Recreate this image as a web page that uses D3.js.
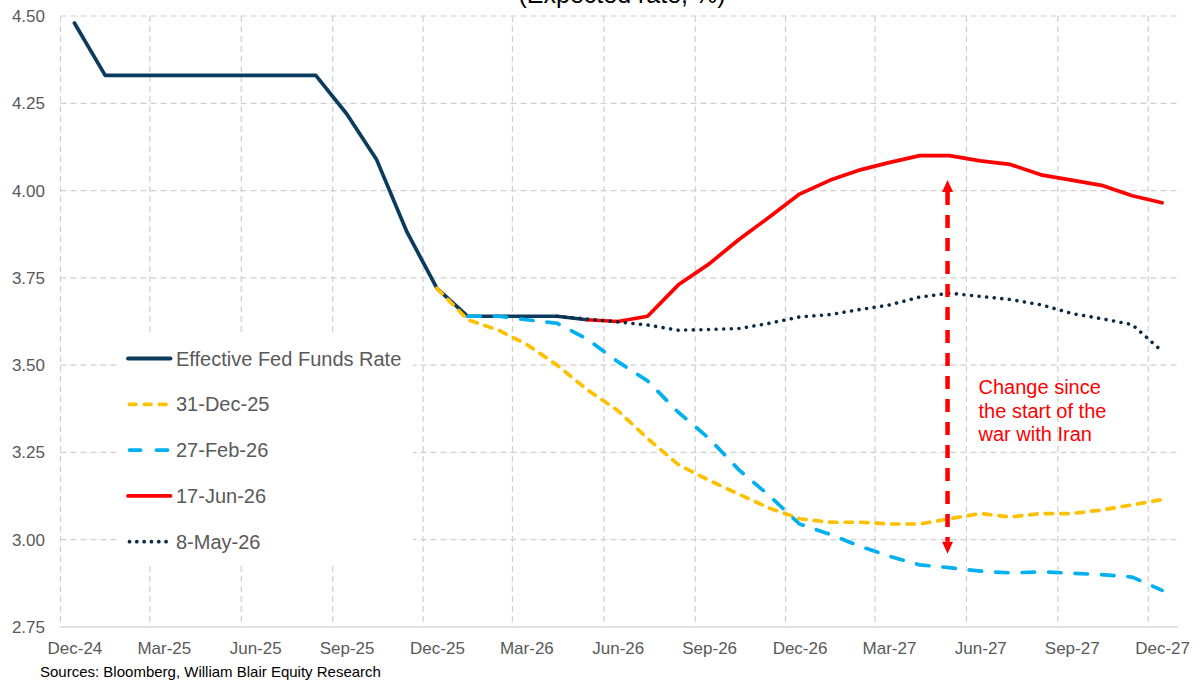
<!DOCTYPE html>
<html>
<head>
<meta charset="utf-8">
<script src="https://cdn.jsdelivr.net/npm/d3@7"></script>
<style>
  html, body { margin: 0; padding: 0; background: #ffffff; }
  svg { display: block; font-family: "Liberation Sans", Arial, sans-serif; }
</style>
</head>
<body>
<svg id="chart" width="1204" height="681"></svg>
<script>
// ---------- DATA ----------
const months = ["Dec-24","Jan-25","Feb-25","Mar-25","Apr-25","May-25","Jun-25","Jul-25","Aug-25","Sep-25","Oct-25","Nov-25",
  "Dec-25","Jan-26","Feb-26","Mar-26","Apr-26","May-26","Jun-26","Jul-26","Aug-26","Sep-26","Oct-26","Nov-26",
  "Dec-26","Jan-27","Feb-27","Mar-27","Apr-27","May-27","Jun-27","Jul-27","Aug-27","Sep-27","Oct-27","Nov-27","Dec-27"];

const effrStart = "Dec-24";
const effrValues = [4.48, 4.33, 4.33, 4.33, 4.33, 4.33, 4.33, 4.33, 4.33, 4.22, 4.09, 3.88, 3.72, 3.64, 3.64, 3.64, 3.64, 3.63];

const dec25Start = "Dec-25";
const dec25Values = [3.72, 3.63, 3.60, 3.56, 3.50, 3.43, 3.37, 3.29, 3.215, 3.17, 3.13, 3.09, 3.06, 3.05, 3.05, 3.045, 3.045, 3.06, 3.075, 3.065, 3.075, 3.075, 3.085, 3.10, 3.115];

const feb26Start = "Jan-26";
const feb26Values = [3.64, 3.64, 3.63, 3.62, 3.575, 3.51, 3.455, 3.365, 3.29, 3.20, 3.125, 3.045, 3.015, 2.98, 2.953, 2.928, 2.92, 2.91, 2.905, 2.908, 2.904, 2.90, 2.893, 2.855];

const jun26Start = "May-26";
const jun26Values = [3.63, 3.625, 3.64, 3.73, 3.79, 3.86, 3.925, 3.99, 4.03, 4.06, 4.08, 4.10, 4.10, 4.085, 4.075, 4.045, 4.03, 4.015, 3.985, 3.965];

const may26Start = "Apr-26";
const may26Values = [3.64, 3.632, 3.624, 3.615, 3.60, 3.602, 3.605, 3.62, 3.638, 3.645, 3.66, 3.672, 3.695, 3.706, 3.697, 3.688, 3.673, 3.648, 3.633, 3.616, 3.54];

const tickMonths = ["Dec-24","Mar-25","Jun-25","Sep-25","Dec-25","Mar-26","Jun-26","Sep-26","Dec-26","Mar-27","Jun-27","Sep-27","Dec-27"];
const yTicks = [2.75, 3.00, 3.25, 3.50, 3.75, 4.00, 4.25, 4.50];

const seriesNames = ["Effective Fed Funds Rate", "31-Dec-25", "27-Feb-26", "17-Jun-26", "8-May-26"];

const titleText = "(Expected rate, %)";
const sourceText = "Sources: Bloomberg, William Blair Equity Research";
const annotationLines = ["Change since", "the start of the", "war with Iran"];
const arrowDate = "2027-05-13";
const arrowTop = 4.03;
const arrowBottom = 2.96;

// ---------- HELPERS ----------
const monIdx = {Jan:0,Feb:1,Mar:2,Apr:3,May:4,Jun:5,Jul:6,Aug:7,Sep:8,Oct:9,Nov:10,Dec:11};
function monthDate(label, day) {
  const [m, y] = label.split("-");
  return new Date(2000 + (+y), monIdx[m], day);
}
function buildSeries(start, values) {
  const s = months.indexOf(start);
  return values.map((v, i) => ({ date: monthDate(months[s + i], 15), value: v }));
}

// ---------- SCALES ----------
const svg = d3.select("#chart");
const x = d3.scaleTime()
  .domain([new Date(2024, 11, 1), new Date(2027, 11, 31)])
  .range([60.5, 1178]);
const y = d3.scaleLinear().domain([2.75, 4.50]).range([627, 16]);

const gridColor = "#d0d0d0";
const textColor = "#595959";

// ---------- GRID ----------
const grid = svg.append("g");
grid.selectAll("line.h")
  .data(yTicks.filter(t => t > 2.75))
  .join("line")
  .attr("x1", x.range()[0]).attr("x2", x.range()[1])
  .attr("y1", d => y(d)).attr("y2", d => y(d))
  .attr("stroke", gridColor).attr("stroke-width", 1.2)
  .attr("stroke-dasharray", "6,4");

grid.selectAll("line.v")
  .data(tickMonths)
  .join("line")
  .attr("x1", d => x(monthDate(d, 1))).attr("x2", d => x(monthDate(d, 1)))
  .attr("y1", y(4.50)).attr("y2", y(2.75))
  .attr("stroke", gridColor).attr("stroke-width", 1.2)
  .attr("stroke-dasharray", "6,4");

// x axis base line
svg.append("line")
  .attr("x1", x.range()[0]).attr("x2", x.range()[1])
  .attr("y1", y(2.75)).attr("y2", y(2.75))
  .attr("stroke", "#d9d9d9").attr("stroke-width", 1.6);

// ---------- AXES LABELS ----------
const yAxis = d3.axisLeft(y).tickValues(yTicks).tickFormat(d3.format(".2f")).tickSize(0).tickPadding(0);
const yg = svg.append("g").attr("transform", "translate(45,0)").call(yAxis);
yg.select(".domain").remove();
yg.selectAll("text").attr("fill", textColor).attr("font-size", 17)
  .attr("font-family", "'Liberation Sans', Arial, sans-serif");

const xAxis = d3.axisBottom(x)
  .tickValues(tickMonths.map(m => monthDate(m, 15)))
  .tickFormat(d => tickMonths[tickMonths.findIndex(m => +monthDate(m, 15) === +d)])
  .tickSize(0).tickPadding(0);
const xg = svg.append("g").attr("transform", "translate(0,640)").call(xAxis);
xg.select(".domain").remove();
xg.selectAll("text").attr("fill", textColor).attr("font-size", 17)
  .attr("font-family", "'Liberation Sans', Arial, sans-serif")
  .attr("dy", "0.8em");

// ---------- LINES ----------
const line = d3.line().x(d => x(d.date)).y(d => y(d.value));

const seriesDefs = [
  { name: seriesNames[0], data: buildSeries(effrStart, effrValues), color: "#0b3c5d", dash: null, cap: "round" },
  { name: seriesNames[1], data: buildSeries(dec25Start, dec25Values), color: "#ffc000", dash: "7.5,8", cap: "round" },
  { name: seriesNames[2], data: buildSeries(feb26Start, feb26Values), color: "#00b0f0", dash: "12.5,14", cap: "round" },
  { name: seriesNames[3], data: buildSeries(jun26Start, jun26Values), color: "#ff0000", dash: null, cap: "round" },
  { name: seriesNames[4], data: buildSeries(may26Start, may26Values), color: "#0b2a45", dash: "0.01,7.6", cap: "round" }
];

svg.append("g").selectAll("path")
  .data(seriesDefs)
  .join("path")
  .attr("d", d => line(d.data))
  .attr("fill", "none")
  .attr("stroke", d => d.color)
  .attr("stroke-width", (d, i) => i === 4 ? 3.6 : 3.7)
  .attr("stroke-linejoin", "round")
  .attr("stroke-linecap", d => d.cap)
  .attr("stroke-dasharray", d => d.dash);

// ---------- LEGEND ----------
const legend = svg.append("g");
legend.append("rect")
  .attr("x", 120).attr("y", 333).attr("width", 293).attr("height", 230)
  .attr("fill", "#ffffff");
const items = legend.selectAll("g.item")
  .data(seriesDefs)
  .join("g")
  .attr("transform", (d, i) => `translate(0,${358.5 + i * 45.8})`);
items.append("line")
  .attr("x1", (d, i) => i === 0 || i === 3 ? 128 : 129.5)
  .attr("x2", (d, i) => i === 0 || i === 3 ? 170.5 : 169)
  .attr("y1", 0).attr("y2", 0)
  .attr("stroke", d => d.color)
  .attr("stroke-width", 3.8)
  .attr("stroke-linecap", d => d.cap)
  .attr("stroke-dasharray", (d, i) => i === 1 ? "6.5,8.5" : i === 2 ? "11,16" : i === 4 ? "0.01,7.3" : null);
items.append("text")
  .attr("x", 176).attr("y", 0).attr("dy", "0.35em")
  .attr("font-size", 20).attr("fill", textColor)
  .text(d => d.name);

// ---------- ANNOTATION ARROW ----------
const ax = x(new Date(arrowDate));
const yTopTip = y(arrowTop), yBotTip = y(arrowBottom);
const headH = 12, headW = 5.5;
svg.append("line")
  .attr("x1", ax).attr("x2", ax)
  .attr("y1", yTopTip + headH).attr("y2", yBotTip - headH)
  .attr("stroke", "#ff0000").attr("stroke-width", 4.5)
  .attr("stroke-dasharray", "13,10");
svg.append("path")
  .attr("d", `M${ax},${yTopTip} L${ax + headW},${yTopTip + headH} L${ax - headW},${yTopTip + headH} Z`)
  .attr("fill", "#ff0000");
svg.append("path")
  .attr("d", `M${ax},${yBotTip} L${ax + headW},${yBotTip - headH} L${ax - headW},${yBotTip - headH} Z`)
  .attr("fill", "#ff0000");

svg.append("g").selectAll("text")
  .data(annotationLines)
  .join("text")
  .attr("x", ax + 31)
  .attr("y", (d, i) => 394 + i * 23.5)
  .attr("font-size", 20)
  .attr("fill", "#ff0000")
  .text(d => d);

// ---------- TITLE & SOURCE ----------
svg.append("text")
  .attr("x", 622).attr("y", 3)
  .attr("text-anchor", "middle")
  .attr("font-size", 25)
  .attr("fill", "#000000")
  .text(titleText);

svg.append("text")
  .attr("x", 40).attr("y", 677)
  .attr("font-size", 15)
  .attr("fill", "#000000")
  .text(sourceText);
</script>
</body>
</html>
